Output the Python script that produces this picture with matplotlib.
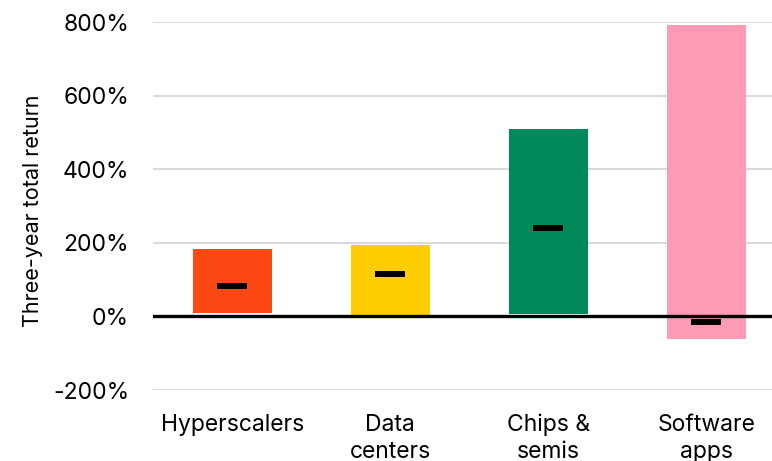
import numpy as np
import matplotlib
matplotlib.use('Agg')
import matplotlib.pyplot as plt

plt.rcParams['font.family'] = ['Inter', 'DejaVu Sans']

# data (three-year total return, %)
categories = ['Hyperscalers', 'Data\ncenters', 'Chips &\nsemis', 'Software\napps']
low = [8, 2, 6, -62]
high = [182, 193, 509, 792]
median = [84, 114, 240, -14]
colors = ['#FC4813', '#FFCD00', '#008A5C', '#FD9BB6']
yticks = [-200, 0, 200, 400, 600, 800]

fig = plt.figure(figsize=(7.72, 4.61), dpi=100)
ax = fig.add_axes([0.198, 0.154, 0.802, 0.798])

x = np.arange(len(categories))
lo = np.array(low)
hi = np.array(high)
ax.bar(x, hi - lo, bottom=lo, width=0.5, color=colors, zorder=2)
ax.hlines(median, x - 0.095, x + 0.095, colors='black', linewidth=4.3, zorder=3)
ax.axhline(0, color='black', linewidth=2.4, zorder=4)

ax.set_ylim(-200, 800)
ax.set_xlim(-0.503, 3.415)
ax.set_yticks(yticks)
ax.set_yticklabels(['%d%%' % v for v in yticks])
ax.set_xticks(x)
ax.set_xticklabels(categories, fontsize=16.5, linespacing=1.3)
ax.tick_params(axis='y', labelsize=16.5, length=0, pad=17)
ax.tick_params(axis='x', length=0, pad=17)
ax.yaxis.grid(True, color='#d9d9de', linewidth=1.5, zorder=0)
ax.set_axisbelow(True)
for s in ax.spines.values():
    s.set_visible(False)
ax.set_ylabel('Three-year total return', fontsize=15.5)
ax.yaxis.set_label_coords(-0.198 + 13 / 619, 0.487)

fig.savefig('out.png', dpi=100)
